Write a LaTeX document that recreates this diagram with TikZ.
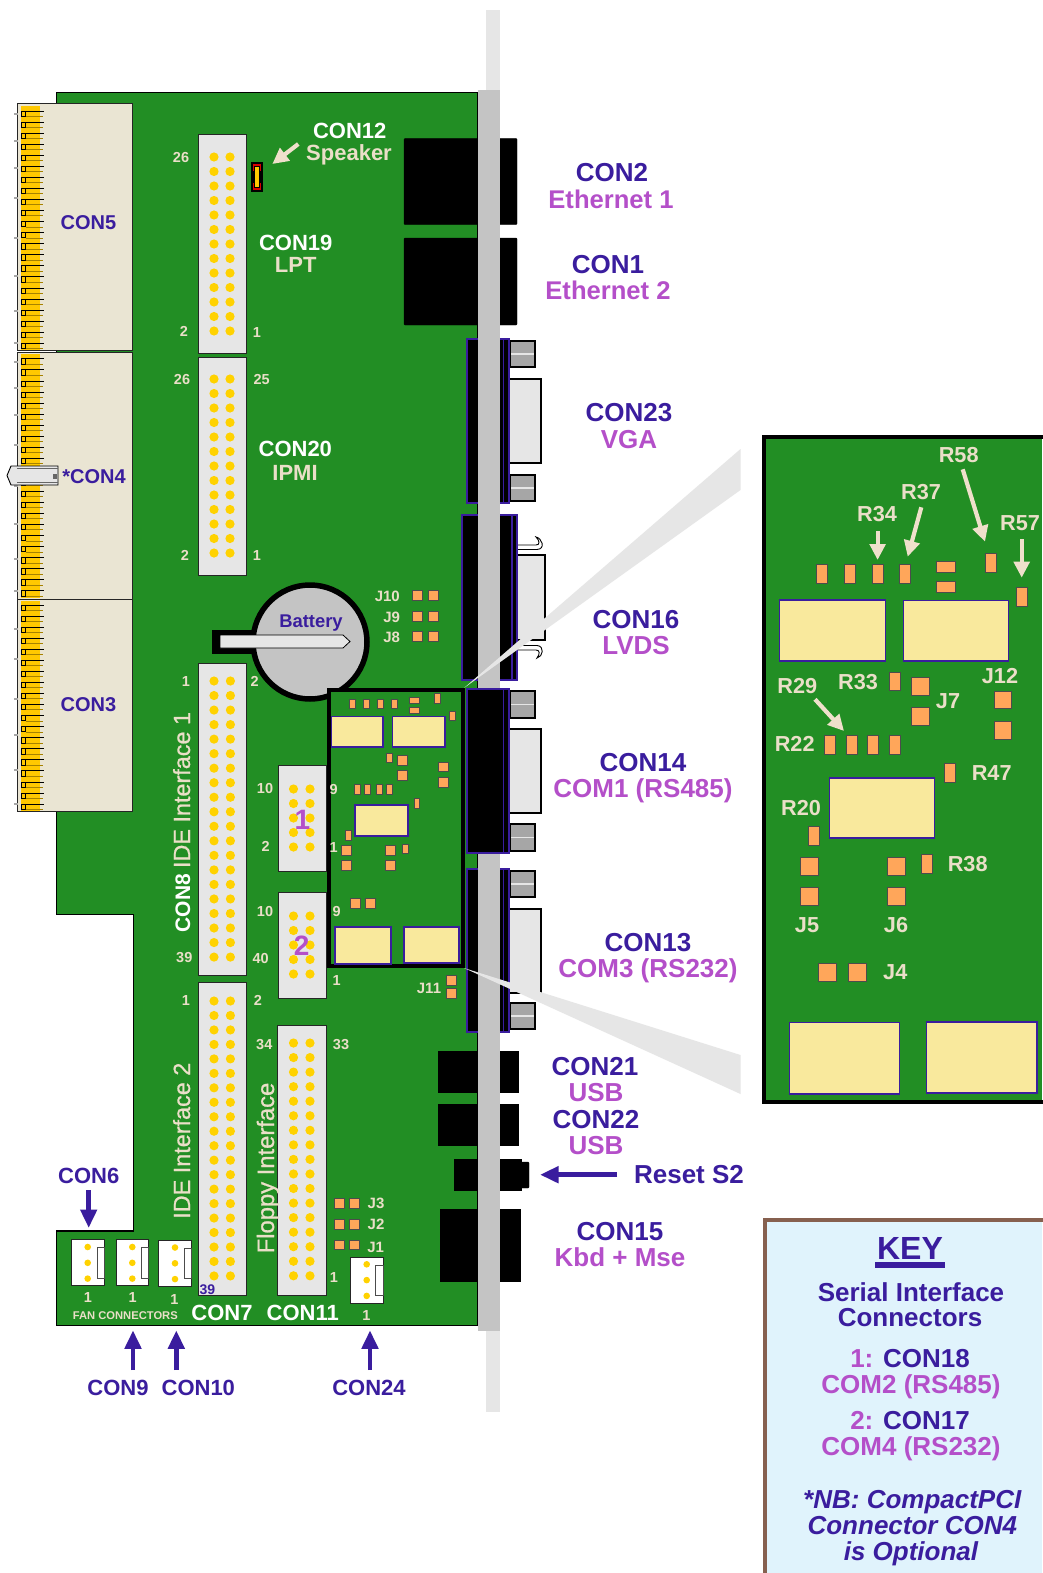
\documentclass[tikz,border=0pt]{standalone}
\usepackage{fontspec}
\setmainfont{Liberation Sans}
\newfontfamily\fakeb[FakeBold=0.9]{Liberation Sans}
\usetikzlibrary{arrows.meta}
\definecolor{bgreen}{HTML}{228E24}
\definecolor{blu}{HTML}{3A1D9E}
\definecolor{pur}{HTML}{B44FC9}
\definecolor{bei}{HTML}{EADFC8}
\definecolor{arrb}{HTML}{EFE0CB}
\definecolor{yelw}{HTML}{F9E99D}
\definecolor{ora}{HTML}{FFA65A}
\definecolor{cream}{HTML}{EAE5D3}
\definecolor{pinc}{HTML}{FFD200}
\definecolor{band}{HTML}{FFC800}
\definecolor{lgray}{HTML}{E6E6E6}
\definecolor{pgray}{HTML}{C4C4C4}
\definecolor{sgray}{HTML}{A6A6A6}
\definecolor{brn}{HTML}{86604F}
\definecolor{keybg}{HTML}{E0F3FC}
\newcount\tcnt
% x, y (centre of capitals), size, colour, text
\newcommand{\T}[5]{\global\advance\tcnt by 1
  \node[anchor=base,inner sep=0pt,text=#4,font=\fontsize{#3}{#3}\bfseries\selectfont] (t\the\tcnt) at (#1,{#2+0.358*#3}) {#5};}
% rotated label: baseline x, centre y, size, colour, text
\newcommand{\RT}[6][\bfseries]{\global\advance\tcnt by 1
  \node[anchor=base,rotate=90,inner sep=0pt,text=#5,font=#1\fontsize{#4}{#4}\selectfont] (t\the\tcnt) at (#2,#3) {#6};}
\newcommand{\R}[4]{\draw[smd] (#1,#2) rectangle (#3,#4);}
\newcommand{\Y}[4]{\draw[chip] (#1,#2) rectangle (#3,#4);}
\newcommand{\IDC}[9]{% x1 y1 x2 y2 col1 col2 ystart rows-1 spacing
  \draw[idc] (#1,#2) rectangle (#3,#4);
  \foreach \k in {0,...,#8} {
    \fill[pinc] (#5,{#7+\k*#9}) circle (4.6);
    \fill[pinc] (#6,{#7+\k*#9}) circle (4.6);}}
\newcommand{\FAN}[8]{% x1 y1 x2 y2 dotx dottop tabx1 tabx2
  \draw[fan] (#1,#2) rectangle (#3,#4);
  \draw[draw=black!70,fill=white,line width=.9] (#7,{#6+.7}) rectangle (#8,{#6+31.3});
  \foreach \k in {0,1,2} \fill[pinc] (#5,{#6+\k*15.8}) circle (3.3);}
\newcommand{\SCREW}[2]{%
  \draw[line width=1.6,fill=sgray] (510,#1) rectangle (535,#2);
  \fill[lgray] (511,{(#1+#2)/2-.9}) rectangle (534,{(#1+#2)/2+.9});}
\tikzset{
  smd/.style={fill=ora,draw=black!70,line width=.7},
  chip/.style={fill=yelw,draw=blu,line width=1.2},
  idc/.style={fill=lgray,draw=black!85,line width=1},
  fan/.style={fill=white,draw=black!85,line width=1},
  dconn/.style={fill=black,draw=blu,line width=1.3},
  dbody/.style={fill=lgray,draw=black,line width=1.5},
  barrow/.style={draw=arrb,line width=4.2,-{Triangle[length=16,width=15.5]}},
  parrow/.style={draw=blu,line width=4.7,-{Triangle[length=18.5,width=16]}},
  hookb/.style={fill=white,draw=black,line width=.9},
}
\begin{document}
\begin{tikzpicture}[x=1pt,y=-1pt,line join=miter]
\useasboundingbox[fill=white] (0,0) rectangle (1042,1573);
% board
\draw[fill=bgreen,draw=black,line width=1.2] (56.5,92.5) -- (478,92.5) -- (478,1325.5) -- (56.5,1325.5) -- (56.5,1231) -- (133.5,1231) -- (133.5,914.5) -- (56.5,914.5) -- cycle;
% card-edge connectors
\foreach \a/\b in {104/350.7,352/599,599/811.5}{
  \draw[fill=cream,draw=black!85,line width=1] (17.5,\a) rectangle (132.7,\b);
  \fill[band] (21,\a+2) rectangle (40,\b-1);}
\foreach \st/\n in {111/21,358.7/21,605/18}{
  \foreach \k in {0,...,\n}{
    \draw[black,line width=.55] (21.5,{\st+\k*11.05}) rectangle (25.7,{\st+\k*11.05+5.2});
    \draw[black,line width=.55] (25.7,{\st+\k*11.05}) -- (43.5,{\st+\k*11.05});
    \draw[black!35!band,line width=.6] (25.7,{\st+\k*11.05+5.3}) -- (43,{\st+\k*11.05+5.3});}}
\foreach \y in {114,141,168,198,238,276,311,343,362,388,415,445,486,524,559,591,629,659,699,735,770,804}{
  \fill[sgray] (14,\y-1.3) rectangle (17.5,\y+1.3);}
% CON4 clip
\draw[fill=lgray,draw=black,line width=.9] (58,466) -- (11,466) -- (7,475.5) -- (11,485) -- (58,485) -- cycle;
\draw[black!60,line width=.8] (17,468.5) -- (58,468.5) (17,482.5) -- (58,482.5);
\fill[black!60] (53,474) rectangle (57,479);
% IDC headers
\IDC{198}{135}{246.7}{353}{214}{230}{157}{12}{14.5}
\IDC{198}{357}{246.7}{575}{214}{230}{379}{12}{14.5}
\IDC{198}{663}{246.7}{975}{214}{230.4}{681}{19}{14.53}
\IDC{198}{982}{246.7}{1295}{214}{230.4}{1001}{19}{14.47}
\IDC{278}{765}{326}{871}{293.5}{310}{789}{4}{14.5}
\IDC{278}{892}{326}{998}{293.5}{310}{916}{4}{14.5}
\IDC{277.5}{1025}{326}{1295}{293.5}{310}{1043}{16}{14.55}
% speaker
\fill[black] (251,162.3) rectangle (262.6,191.7);
\draw[red!85!black,line width=1.3] (253.5,165) rectangle (260.5,189);
\fill[black] (252.6,171) rectangle (261.5,183);
\fill[band] (255,167) rectangle (259,187);
% battery
\fill[black] (212,630) rectangle (256,653.5);
\draw[black,fill=pgray,line width=5.5] (310,642) circle (57);
\draw[fill=lgray,draw=black,line width=.8] (220,635) -- (343,635) -- (350,641.5) -- (343,648) -- (220,648) -- cycle;
% fan connectors
\FAN{71.3}{1239.7}{104.7}{1285.7}{87.7}{1247}{97.3}{104.7}
\FAN{116}{1239.7}{148.7}{1285.7}{132.3}{1247}{141.3}{148.7}
\FAN{158.7}{1240.3}{191.7}{1286.3}{175}{1247.5}{184}{191.7}
\FAN{350}{1257.3}{383.3}{1303}{366.7}{1264.3}{375.7}{383.3}
% jumpers on board
\foreach \y in {1198.7,1219.3,1240}{\R{334.3}{\y}{344.3}{\y+9.7}\R{349.3}{\y}{359.3}{\y+9.7}}
\foreach \y in {590.3,611,631.7}{\R{412.7}{\y}{422.7}{\y+10}\R{428.3}{\y}{438}{\y+10}}
\R{446}{975.5}{456}{985.5}\R{446}{988}{456}{998}
% panel connectors (black)
\draw[black,fill=black,rounded corners=1] (404,138.5) rectangle (517,224.7);
\draw[black,fill=black,rounded corners=1] (404,238) rectangle (517,325);
\draw[black,fill=black] (438,1051) rectangle (518,1092);
\draw[black,fill=black] (438,1104) rectangle (518,1145);
\draw[black,fill=black] (454.5,1159) rectangle (521,1190);
\draw[black,fill=black,rounded corners=1] (521,1162) rectangle (529,1188);
\draw[black,fill=black] (440,1209) rectangle (520,1281);
% CON23
\draw[dbody] (508,379) rectangle (541,463);
\SCREW{341}{367}\SCREW{475}{501}
\draw[dconn] (467,339) rectangle (509,503);
\draw[blu,line width=1.3] (503.5,339) -- (503.5,503);
% CON16
\draw[hookb] (517,545) -- (536,545) .. controls (540,545) and (540,541) .. (536,537) .. controls (542,538) and (546,549) .. (537,549.5) -- (517,549.5);
\draw[hookb] (517,645.5) -- (537,645.5) .. controls (545,646) and (543,657) .. (537,658) .. controls (540,654) and (540,650) .. (536,650) -- (517,650);
\draw[dbody] (516,555) rectangle (545,640);
\draw[dconn] (462,515) rectangle (517,680);
\draw[blu,line width=1.3] (512,515) -- (512,680);
% CON13
\draw[dbody] (508,909) rectangle (541,993);
\SCREW{871}{897}\SCREW{1003}{1029}
\draw[dconn] (467,869) rectangle (509,1032);
\draw[blu,line width=1.3] (503.5,869) -- (503.5,1032);
% panel
\fill[lgray] (486,10) rectangle (500,1412);
\fill[pgray] (478,90) rectangle (500,1331);
% CON14 (in front of the panel)
\draw[dbody] (508,729) rectangle (541,813);
\SCREW{691}{718}\SCREW{824}{851}
\draw[dconn] (467,689) rectangle (509,853);
\draw[blu,line width=1.3] (503.5,689) -- (503.5,853);
% zoom beams
\fill[lgray] (464,688) -- (740.5,449) -- (740.5,490) -- cycle;
\fill[lgray] (464,968) -- (740.5,1055) -- (740.5,1094) -- cycle;
% small inset
\draw[fill=bgreen,draw=black,line width=3.6] (329,690) rectangle (463,966);
\foreach \x in {349.5,363.3,377.3,391}{\R{\x}{699}{\x+6}{708.7}}
\R{409}{697}{419}{703}\R{409}{707}{419}{713}
\R{434}{693}{440}{703}\R{449}{711}{455}{720}
\Y{331.5}{716.5}{383}{747}\Y{392.5}{716.5}{445}{747}
\R{386}{753}{392}{762}
\R{397}{755}{407}{765}\R{397}{770}{407}{780}
\R{438}{762}{448}{771.5}\R{438}{777}{448}{787}
\foreach \x in {354,364.3,376,386}{\R{\x}{784}{\x+6}{794}}
\R{414}{798}{419.5}{808}
\Y{355}{805}{408}{836}
\R{345}{830}{351}{840}
\R{341}{845}{351}{855}\R{341}{860}{351}{870}
\R{385}{845}{395}{855}\R{385}{860}{395}{870}
\R{402}{844}{408}{853}
\R{350}{898}{360}{908}\R{365}{898}{375}{908}
\Y{335}{927}{391}{964}\Y{404}{927}{459}{963}
% big inset
\fill[bgreen] (764,437) rectangle (1042,1102);
\draw[black,line width=3.6] (1044,437) -- (764,437) -- (764,1102) -- (1044,1102);
\R{816.3}{564.7}{827.7}{583.3}\R{844.3}{564.7}{855.7}{583.3}\R{872}{564.7}{883.3}{583.3}\R{899.3}{564.7}{910.7}{583.3}
\R{936.3}{561.3}{955}{572.7}\R{936.3}{581}{955}{592}
\R{985.7}{553.7}{996.7}{572.3}\R{1016.3}{587.7}{1027.3}{606}
\Y{779.7}{600}{885.3}{661}\Y{903.7}{600.7}{1008.3}{661}
\R{889.3}{672.3}{900.3}{690.7}
\R{911.3}{677.7}{929}{695.3}\R{911.3}{707.7}{929}{725.3}
\R{994.3}{691.3}{1011.7}{708.7}\R{994.3}{721.3}{1011.7}{739}
\R{824.7}{735.7}{835.7}{754}\R{846.3}{735.7}{857.3}{754}\R{867.7}{735.7}{878.7}{754}\R{889.3}{735.7}{900.3}{754}
\R{944.3}{763.7}{955.7}{782.3}
\Y{829.7}{778}{934.3}{838}
\R{808}{826.7}{819.3}{845.3}
\R{800}{857.7}{818}{875.3}\R{800}{887.7}{818}{905.3}
\R{887.7}{857.7}{905.7}{875.3}\R{887.7}{887.7}{905.7}{905.3}
\R{921.7}{854.3}{932.7}{873.3}
\R{818.7}{963.7}{836.7}{981.3}\R{848.7}{963.7}{866.7}{981.3}
\Y{789.7}{1022.7}{899.3}{1094}\Y{926.7}{1022}{1037}{1093}
% key
\fill[keybg] (764,1219) rectangle (1042,1573);
\draw[brn,line width=4.4] (1044,1220) -- (765,1220) -- (765,1575);
% arrows
\coordinate (a1s) at (298.3,144);\coordinate (a1e) at (272.3,164);
\coordinate (a2s) at (877.6,531);\coordinate (a2e) at (877.6,560);
\coordinate (a3s) at (921.3,507.3);\coordinate (a3e) at (907.7,556.7);
\coordinate (a4s) at (962.7,469.3);\coordinate (a4e) at (985,541.7);
\coordinate (a5s) at (1021.7,539.3);\coordinate (a5e) at (1021.7,577.7);
\coordinate (a6s) at (815,699.3);\coordinate (a6e) at (844,731);
\foreach \n in {1,...,6}{\draw[barrow] (a\n s) -- (a\n e);}
\coordinate (b1s) at (88.7,1190);\coordinate (b1e) at (88.7,1228);
\coordinate (b2s) at (133,1370);\coordinate (b2e) at (133,1330.3);
\coordinate (b3s) at (176.3,1370);\coordinate (b3e) at (176.3,1330.3);
\coordinate (b4s) at (370,1370);\coordinate (b4e) at (370,1330.3);
\coordinate (b5s) at (617,1174.7);\coordinate (b5e) at (540,1174.7);
\foreach \n in {1,...,5}{\draw[parrow] (b\n s) -- (b\n e);}
% panel labels
\T{612}{172}{26}{blu}{CON2}\T{611}{199}{25.6}{pur}{Ethernet 1}
\T{608}{264}{26}{blu}{CON1}\T{608}{290}{25.6}{pur}{Ethernet 2}
\T{629}{412}{26}{blu}{CON23}\T{629}{439}{26}{pur}{VGA}
\T{636}{619}{26}{blu}{CON16}\T{636}{645}{26}{pur}{LVDS}
\T{643}{762}{26}{blu}{CON14}\T{643}{788}{26}{pur}{COM1 (RS485)}
\T{648}{942}{26}{blu}{CON13}\T{648}{968}{26}{pur}{COM3 (RS232)}
\T{595}{1066}{26}{blu}{CON21}\T{596}{1092}{26}{pur}{USB}
\T{596}{1119}{26}{blu}{CON22}\T{596}{1145}{26}{pur}{USB}
\T{689}{1174}{26}{blu}{Reset S2}
\T{620}{1231}{26}{blu}{CON15}\T{620}{1257}{26}{pur}{Kbd + Mse}
% edge connectors
\T{88.5}{222}{20}{blu}{CON5}\T{94}{476}{20}{blu}{*CON4}\T{88.5}{704}{20}{blu}{CON3}
% board labels
\T{349.7}{130.7}{22}{white}{CON12}\T{349}{152.7}{22}{bei}{Speaker}
\T{295.7}{242.3}{22}{white}{CON19}\T{295.7}{265}{22}{bei}{LPT}
\T{295.3}{449}{22}{white}{CON20}\T{295}{472.3}{22}{bei}{IPMI}
\T{311}{621}{18.4}{blu}{Battery}
\T{387.3}{595.7}{15}{bei}{J10}\T{391.7}{617}{15}{bei}{J9}\T{391.7}{637}{15}{bei}{J8}
\T{181}{157}{14.5}{bei}{26}\T{184}{331.7}{14.5}{bei}{2}\T{257}{332}{14.5}{bei}{1}
\T{182}{379}{14.5}{bei}{26}\T{261.7}{379}{14.5}{bei}{25}\T{185}{555}{14.5}{bei}{2}\T{257}{555}{14.5}{bei}{1}
\T{186}{681.3}{14.5}{bei}{1}\T{254.7}{681}{14.5}{bei}{2}
\T{265}{788.7}{14.5}{bei}{10}\T{333.7}{789}{14.5}{bei}{9}\T{265.7}{846.7}{14.5}{bei}{2}\T{333.7}{847}{14.5}{bei}{1}
\T{265}{911.7}{14.5}{bei}{10}\T{336.7}{911.7}{14.5}{bei}{9}\T{336.7}{980}{14.5}{bei}{1}
\T{184.3}{957.7}{14.5}{bei}{39}\T{260.7}{958}{14.5}{bei}{40}
\T{186}{1000.7}{14.5}{bei}{1}\T{258}{1000.7}{14.5}{bei}{2}
\T{264.3}{1044}{14.5}{bei}{34}\T{341}{1044}{14.5}{bei}{33}
\T{429}{988}{15}{bei}{J11}
\T{376}{1203.3}{15}{bei}{J3}\T{376}{1224}{15}{bei}{J2}\T{375.7}{1246.7}{15}{bei}{J1}
\T{334}{1277}{14.5}{bei}{1}
\T{88}{1297.7}{14.5}{bei}{1}\T{132.7}{1297.7}{14.5}{bei}{1}\T{174.3}{1299}{14.5}{bei}{1}\T{366.3}{1315.7}{14.5}{bei}{1}
\T{125.3}{1315.7}{11.2}{bei}{FAN CONNECTORS}
\T{222}{1312.3}{22}{white}{CON7}\T{302.7}{1312.3}{22}{white}{CON11}
\T{207.3}{1289}{14}{blu}{39}
\T{88.7}{1176}{22}{blu}{CON6}
\T{118}{1387.3}{22}{blu}{CON9}\T{198.3}{1387.3}{22}{blu}{CON10}\T{369}{1387.3}{22}{blu}{CON24}
\T{302.3}{819.3}{28}{pur}{1}\T{301.7}{945.7}{28}{pur}{2}
% rotated
\RT{190}{903}{21}{white}{CON8}
\RT[\fakeb]{190}{790}{23.4}{bei}{IDE Interface 1}
\RT[\fakeb]{190}{1140.7}{23.4}{bei}{IDE Interface 2}
\RT[\fakeb]{274}{1168}{23.8}{bei}{Floppy Interface}
% big inset labels
\T{958.7}{455}{21.7}{bei}{R58}\T{921}{491.7}{21.7}{bei}{R37}\T{877}{514}{21.7}{bei}{R34}\T{1020}{523}{21.7}{bei}{R57}
\T{858}{682}{21.7}{bei}{R33}\T{797.3}{685.7}{21.7}{bei}{R29}\T{1000}{675.7}{21.7}{bei}{J12}\T{948}{701}{21.7}{bei}{J7}
\T{794.7}{744}{21.7}{bei}{R22}\T{991.7}{773}{21.7}{bei}{R47}\T{801}{808}{21.7}{bei}{R20}\T{967.7}{864}{21.7}{bei}{R38}
\T{807}{925}{21.7}{bei}{J5}\T{896}{925}{21.7}{bei}{J6}\T{895.3}{972}{21.7}{bei}{J4}
% key text
\T{910}{1248.3}{32}{blu}{KEY}
\fill[blu] (875,1261.7) rectangle (945,1267.7);
\T{911}{1291.7}{26}{blu}{Serial Interface}\T{910}{1317.3}{26}{blu}{Connectors}
\T{910}{1358.3}{26}{blu}{{\color{pur}1:} CON18}\T{911}{1384}{26}{pur}{COM2 (RS485)}
\T{910}{1420}{26}{blu}{{\color{pur}2:} CON17}\T{911}{1446}{26}{pur}{COM4 (RS232)}
\T{912.3}{1499}{26}{blu}{\itshape *NB: CompactPCI}\T{912.3}{1525}{26}{blu}{\itshape Connector CON4}\T{911}{1551}{26}{blu}{\itshape is Optional}
\end{tikzpicture}
\end{document}
